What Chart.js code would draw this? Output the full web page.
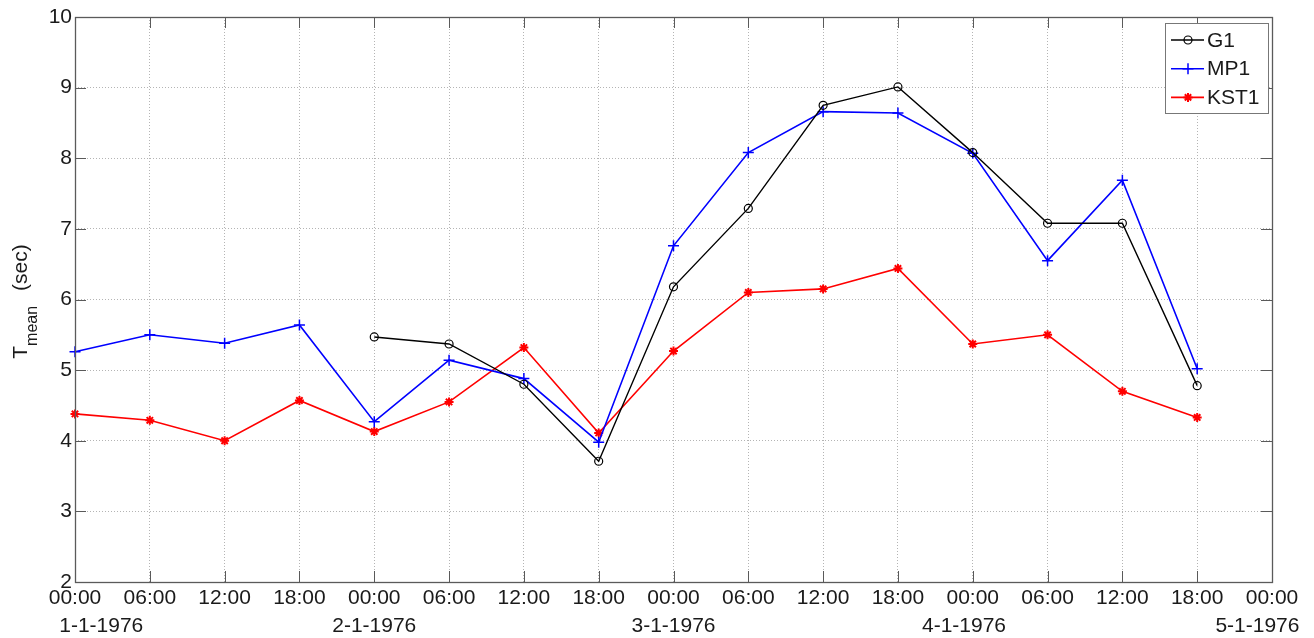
<!DOCTYPE html>
<html>
<head>
<meta charset="utf-8">
<title>Tmean G1 / MP1 / KST1</title>
<script src="https://cdn.jsdelivr.net/npm/chart.js@4/dist/chart.umd.min.js"></script>
<style>
  html, body { margin: 0; padding: 0; background: #fff; }
  canvas { display: block; }
</style>
</head>
<body>
<canvas id="c" width="1314" height="638"></canvas>
<script>
// Six-hourly time steps, 1-1-1976 00:00 through 5-1-1976 00:00
const timeLabels = ['00:00', '06:00', '12:00', '18:00',
                    '00:00', '06:00', '12:00', '18:00',
                    '00:00', '06:00', '12:00', '18:00',
                    '00:00', '06:00', '12:00', '18:00',
                    '00:00'];
const dateLabels = ['1-1-1976', '', '', '',
                    '2-1-1976', '', '', '',
                    '3-1-1976', '', '', '',
                    '4-1-1976', '', '', '',
                    '5-1-1976'];

// Mean wave period (sec) per model
const g1Values   = [null, null, null, null, 5.47, 5.37, 4.80, 3.71, 6.18, 7.29, 8.75, 9.01, 8.08, 7.08, 7.08, 4.78, null];
const mp1Values  = [5.26, 5.50, 5.38, 5.64, 4.27, 5.14, 4.88, 3.98, 6.76, 8.08, 8.66, 8.64, 8.07, 6.55, 7.69, 5.02, null];
const kst1Values = [4.38, 4.29, 4.00, 4.57, 4.13, 4.55, 5.32, 4.11, 5.27, 6.10, 6.15, 6.44, 5.37, 5.50, 4.70, 4.33, null];

const yTicks = { min: 2, max: 10, step: 1 };

const FONT = '"Liberation Sans", Arial, Helvetica, sans-serif';
const TEXT = '#1a1a1a';
const AXIS = '#5a5a5a';

// Date line nudges so the outer dates stay inside the figure
const datePad = { 0: { lead: 9, trail: 0 }, 12: { lead: 0, trail: 3 }, 16: { lead: 0, trail: 5 } };
function dateLine(i) {
  const p = datePad[i] || { lead: 0, trail: 0 };
  return ' '.repeat(p.lead) + dateLabels[i] + ' '.repeat(p.trail);
}
const labels = timeLabels.map((t, i) => dateLabels[i] ? [t, dateLine(i)] : t);

// Axes box with inward tick marks on all four sides
const axesBox = {
  id: 'axesBox',
  afterDatasetsDraw(chart) {
    const { ctx, chartArea: a, scales } = chart;
    const len = 11;
    ctx.save();
    ctx.strokeStyle = AXIS;
    ctx.lineWidth = 1;
    ctx.beginPath();
    scales.x.ticks.forEach((t, i) => {
      const px = Math.round(scales.x.getPixelForTick(i)) + 0.5;
      ctx.moveTo(px, a.bottom); ctx.lineTo(px, a.bottom - len);
      ctx.moveTo(px, a.top); ctx.lineTo(px, a.top + len);
    });
    scales.y.ticks.forEach(t => {
      const py = Math.round(scales.y.getPixelForValue(t.value)) + 0.5;
      ctx.moveTo(a.left, py); ctx.lineTo(a.left + len, py);
      ctx.moveTo(a.right, py); ctx.lineTo(a.right - len, py);
    });
    ctx.stroke();
    ctx.lineWidth = 1.3;
    ctx.strokeRect(Math.round(a.left) + 0.5, Math.round(a.top) + 0.5,
                   Math.round(a.right - a.left), Math.round(a.bottom - a.top));
    ctx.restore();
  }
};

// Legend with a line sample and marker for each series
const lineLegend = {
  id: 'lineLegend',
  afterDraw(chart) {
    const { ctx, chartArea: a } = chart;
    const w = 103, h = 90;
    const x0 = Math.round(a.right - 4 - w), y0 = Math.round(a.top + 6);
    ctx.save();
    ctx.fillStyle = '#fff';
    ctx.fillRect(x0, y0, w, h);
    ctx.strokeStyle = '#777';
    ctx.lineWidth = 1;
    ctx.strokeRect(x0 + 0.5, y0 + 0.5, w, h);
    chart.data.datasets.forEach((ds, i) => {
      const yy = y0 + 17 + i * 28.7;
      ctx.strokeStyle = ds.borderColor;
      ctx.lineWidth = ds.borderWidth;
      ctx.beginPath();
      ctx.moveTo(x0 + 6, yy); ctx.lineTo(x0 + 39, yy);
      ctx.stroke();
      ctx.fillStyle = ds.pointBackgroundColor;
      ctx.strokeStyle = ds.pointBorderColor;
      ctx.lineWidth = ds.pointBorderWidth;
      Chart.helpers.drawPoint(ctx, {
        pointStyle: ds.pointStyle, radius: ds.pointRadius,
        rotation: 0, borderWidth: ds.pointBorderWidth
      }, x0 + 23, yy);
      ctx.fillStyle = TEXT;
      ctx.font = '21px ' + FONT;
      ctx.textBaseline = 'middle';
      ctx.textAlign = 'left';
      ctx.fillText(ds.label, x0 + 42, yy + 1);
    });
    ctx.restore();
  }
};

// Rotated y-axis title: T with subscript "mean", then the unit
const yTitle = {
  id: 'yTitle',
  afterDraw(chart) {
    const { ctx, chartArea: a } = chart;
    const big = '21px ' + FONT, small = '16px ' + FONT;
    ctx.save();
    ctx.translate(27, (a.top + a.bottom) / 2 + 2);
    ctx.rotate(-Math.PI / 2);
    ctx.fillStyle = TEXT;
    ctx.textBaseline = 'alphabetic';
    ctx.textAlign = 'left';
    ctx.font = big;
    const wT = ctx.measureText('T').width;
    const wU = ctx.measureText('(sec)').width;
    ctx.font = small;
    const wM = ctx.measureText('mean').width;
    const gap = 15;
    let x = -(wT + wM + gap + wU) / 2;
    ctx.font = big;
    ctx.fillText('T', x, 0);
    x += wT;
    ctx.font = small;
    ctx.fillText('mean', x, 10);
    x += wM + gap;
    ctx.font = big;
    ctx.fillText('(sec)', x, 0);
    ctx.restore();
  }
};

Chart.defaults.font.family = FONT;
Chart.defaults.font.size = 21;
Chart.defaults.color = TEXT;

new Chart(document.getElementById('c'), {
  type: 'line',
  data: {
    labels: labels,
    datasets: [
      {
        label: 'G1', data: g1Values,
        borderColor: '#000000', borderWidth: 1.4,
        pointStyle: 'circle', pointRadius: 4, pointBorderWidth: 1.2,
        pointBorderColor: '#000000', pointBackgroundColor: 'rgba(255,255,255,0)'
      },
      {
        label: 'MP1', data: mp1Values,
        borderColor: '#0000ff', borderWidth: 1.6,
        pointStyle: 'cross', pointRadius: 5.5, pointBorderWidth: 1.5,
        pointBorderColor: '#0000ff', pointBackgroundColor: '#0000ff'
      },
      {
        label: 'KST1', data: kst1Values,
        borderColor: '#ff0000', borderWidth: 1.6,
        pointStyle: 'star', pointRadius: 4.5, pointBorderWidth: 2,
        pointBorderColor: '#ff0000', pointBackgroundColor: '#ff0000'
      }
    ]
  },
  options: {
    responsive: false,
    animation: false,
    events: [],
    spanGaps: false,
    elements: { line: { tension: 0 }, point: { hoverRadius: 0 } },
    layout: { padding: { top: 17, right: 42, bottom: 0, left: 0 } },
    plugins: { legend: { display: false }, tooltip: { enabled: false }, title: { display: false } },
    scales: {
      x: {
        type: 'category',
        offset: false,
        grid: { color: '#b4b4b4', lineWidth: 1, drawTicks: false },
        border: { display: false, dash: [1, 2] },
        ticks: {
          autoSkip: false, maxRotation: 0, minRotation: 0,
          padding: 2, color: TEXT,
          font: { size: 21, lineHeight: 1.33 }
        },
        afterFit(scale) { scale.height = 56; scale.paddingLeft = 0; scale.paddingRight = 0; }
      },
      y: {
        min: yTicks.min, max: yTicks.max,
        grid: { color: '#b4b4b4', lineWidth: 1, drawTicks: false },
        border: { display: false, dash: [1, 2] },
        ticks: { stepSize: yTicks.step, padding: 3, color: TEXT, font: { size: 21 } },
        afterFit(scale) { scale.width = 75; }
      }
    }
  },
  plugins: [axesBox, yTitle, lineLegend]
});
</script>
</body>
</html>
